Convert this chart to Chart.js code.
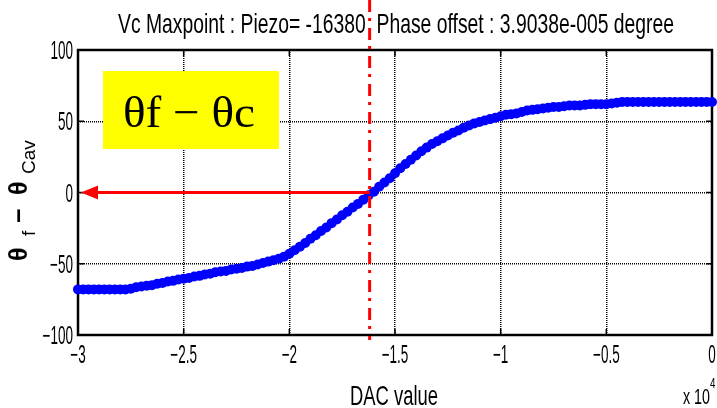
<!DOCTYPE html>
<html>
<head>
<meta charset="utf-8">
<script src="https://cdn.jsdelivr.net/npm/chart.js@4.4.0/dist/chart.umd.min.js"></script>
<style>
body { margin: 0; background: #fff; }
#wrap { width: 717px; height: 408px; position: relative; }
</style>
</head>
<body>
<div id="wrap"><canvas id="myChart"></canvas></div>
<script>
// DAC values (x) and phase difference theta_f - theta_cav (y)
var dacValues = [
  -30000, -29750, -29500, -29250, -29000, -28750, -28500, -28250, -28000, -27750,
  -27500, -27250, -27000, -26750, -26500, -26250, -26000, -25750, -25500, -25250,
  -25000, -24750, -24500, -24250, -24000, -23750, -23500, -23250, -23000, -22750,
  -22500, -22250, -22000, -21750, -21500, -21250, -21000, -20750, -20500, -20250,
  -20000, -19750, -19500, -19250, -19000, -18750, -18500, -18250, -18000, -17750,
  -17500, -17250, -17000, -16750, -16500, -16250, -16000, -15750, -15500, -15250,
  -15000, -14750, -14500, -14250, -14000, -13750, -13500, -13250, -13000, -12750,
  -12500, -12250, -12000, -11750, -11500, -11250, -11000, -10750, -10500, -10250,
  -10000, -9750, -9500, -9250, -9000, -8750, -8500, -8250, -8000, -7750,
  -7500, -7250, -7000, -6750, -6500, -6250, -6000, -5750, -5500, -5250,
  -5000, -4750, -4500, -4250, -4000, -3750, -3500, -3250, -3000, -2750,
  -2500, -2250, -2000, -1750, -1500, -1250, -1000, -750, -500, -250, 0
];
var phaseDiff = [
  -68, -68, -68, -68, -68, -68, -68, -68, -68, -68,
  -67.5, -66.5, -66, -65.5, -65, -64, -63.5, -62.5, -62, -61,
  -60.5, -60, -59, -58.5, -57.5, -57, -56, -55.5, -55, -54,
  -53.5, -53, -52, -51.5, -50.5, -49.5, -48.5, -47.5, -46.5, -45,
  -43, -40.5, -38, -35.5, -32.5, -30, -27, -24.5, -21.5, -19,
  -16, -13.5, -10.5, -8, -5, -2, 0.5, 4, 7, 10,
  13.5, 17, 20, 23, 26, 29, 31.5, 34, 36, 38,
  40, 42, 43.5, 45.5, 47, 48.5, 49.5, 50.5, 51.5, 52.5,
  53.5, 54.5, 55, 55.5, 56.5, 57.5, 58, 58.5, 59, 59.5,
  60, 60, 60.5, 61, 61, 61, 61.5, 62, 62, 62,
  62, 62.5, 63, 63.5, 63.5, 63.5, 63.5, 63.5, 63.5, 63.5,
  63.5, 63.5, 63.5, 63.5, 63.5, 63.5, 63.5, 63.5, 63.5, 63.5, 63.5
];
var xTicks = [-30000, -25000, -20000, -15000, -10000, -5000, 0];
var yTicks = [-100, -50, 0, 50, 100];
var maxpointDac = -16200;
var titleText = 'Vc Maxpoint : Piezo= -16380  Phase offset : 3.9038e-005 degree';

var sans = "'Liberation Sans', Arial, sans-serif";

function minus(v) {
  return String(v).replace('-', '\u2212');
}

// draw text squeezed horizontally
function squeezed(ctx, text, x, y, sx, align) {
  ctx.save();
  ctx.translate(x, y);
  ctx.scale(sx, 1);
  ctx.textAlign = align || 'center';
  ctx.fillText(text, 0, 0);
  ctx.restore();
}

// draw text squeezed to a target width
function fitText(ctx, text, x, y, w, align) {
  var m = ctx.measureText(text).width;
  squeezed(ctx, text, x, y, w / m, align);
}

var decor = {
  id: 'decor',
  beforeDraw: function(chart) {
    var ctx = chart.ctx;
    ctx.save();
    ctx.fillStyle = '#fff';
    ctx.fillRect(0, 0, chart.width, chart.height);
    ctx.restore();
  },
  beforeDatasetsDraw: function(chart) {
    var ctx = chart.ctx, a = chart.chartArea;
    var xs = chart.scales.x, ys = chart.scales.y;
    ctx.save();
    ctx.strokeStyle = '#000';
    ctx.lineWidth = 1.5;
    // inner ticks
    ctx.beginPath();
    xTicks.forEach(function(v) {
      var px = xs.getPixelForValue(v);
      ctx.moveTo(px, a.bottom); ctx.lineTo(px, a.bottom - 6);
      ctx.moveTo(px, a.top); ctx.lineTo(px, a.top + 6);
    });
    yTicks.forEach(function(v) {
      var py = ys.getPixelForValue(v);
      ctx.moveTo(a.left, py); ctx.lineTo(a.left + 6, py);
      ctx.moveTo(a.right, py); ctx.lineTo(a.right - 6, py);
    });
    ctx.stroke();
    ctx.lineWidth = 2.5;
    ctx.strokeRect(a.left, a.top, a.right - a.left, a.bottom - a.top);

    // tick labels, tall and narrow like the original
    ctx.fillStyle = '#000';
    ctx.font = '25px ' + sans;
    ctx.textBaseline = 'alphabetic';
    xs.ticks.forEach(function(t) {
      squeezed(ctx, minus(t.value / 10000), xs.getPixelForValue(t.value), a.bottom + 28, 0.54, 'center');
    });
    ys.ticks.forEach(function(t) {
      squeezed(ctx, minus(t.value), a.left - 5, ys.getPixelForValue(t.value) + 9, 0.54, 'right');
    });
    ctx.restore();
  },
  afterDatasetsDraw: function(chart) {
    var ctx = chart.ctx, a = chart.chartArea;
    var xs = chart.scales.x, ys = chart.scales.y;
    var mx = xs.getPixelForValue(maxpointDac);
    var y0 = ys.getPixelForValue(0);
    ctx.save();

    // red horizontal arrow to the axis
    ctx.strokeStyle = '#ff0000';
    ctx.fillStyle = '#ff0000';
    ctx.lineWidth = 3;
    ctx.beginPath();
    ctx.moveTo(mx, y0);
    ctx.lineTo(a.left + 14, y0);
    ctx.stroke();
    ctx.beginPath();
    ctx.moveTo(a.left + 3, y0);
    ctx.lineTo(a.left + 20, y0 - 7);
    ctx.lineTo(a.left + 20, y0 + 7);
    ctx.closePath();
    ctx.fill();

    // red dash-dot vertical line
    ctx.lineWidth = 3;
    ctx.setLineDash([12, 6, 3, 7]);
    ctx.beginPath();
    ctx.moveTo(mx, 0);
    ctx.lineTo(mx, a.bottom + 5);
    ctx.stroke();
    ctx.setLineDash([]);

    // yellow label box
    ctx.fillStyle = '#ffff00';
    ctx.fillRect(103, 71, 176, 78);
    ctx.fillStyle = '#000';
    ctx.font = "44px 'Liberation Serif', serif";
    ctx.textBaseline = 'alphabetic';
    fitText(ctx, '\u03b8f \u2212 \u03b8c', 189, 127, 132, 'center');

    // title
    ctx.font = '28px ' + sans;
    fitText(ctx, titleText, 396, 33, 556, 'center');

    // x axis title and exponent
    ctx.font = '28px ' + sans;
    fitText(ctx, 'DAC value', 394, 405, 88, 'center');
    ctx.font = '22px ' + sans;
    fitText(ctx, 'x 10', 683, 404, 27, 'left');
    ctx.font = '15px ' + sans;
    squeezed(ctx, '4', 710, 388, 0.65, 'left');

    // y axis title, rotated
    ctx.save();
    ctx.translate(27, 261);
    ctx.rotate(-Math.PI / 2);
    ctx.textAlign = 'left';
    var main = 'bold 25px ' + sans;
    var sub = '19px ' + sans;
    ctx.font = main; ctx.fillText('\u03b8', 0, 0);
    ctx.font = sub; ctx.fillText('f', 25, 8);
    ctx.font = main; ctx.fillText('\u2212', 38, 0);
    ctx.font = main; ctx.fillText('\u03b8', 66, 0);
    ctx.font = sub; ctx.fillText('Cav', 87, 8);
    ctx.restore();

    ctx.restore();
  }
};

var points = dacValues.map(function(d, i) { return {x: d, y: phaseDiff[i]}; });

var ctx = document.getElementById('myChart');
new Chart(ctx, {
  type: 'line',
  data: {
    datasets: [{
      data: points,
      borderColor: '#0000ff',
      backgroundColor: '#0000ff',
      borderWidth: 6,
      pointRadius: 5,
      pointBorderWidth: 0,
      pointBackgroundColor: '#0000ff',
      tension: 0,
      clip: false
    }]
  },
  options: {
    responsive: true,
    maintainAspectRatio: false,
    animation: false,
    layout: { padding: { top: 50, right: 2, left: 0, bottom: 0 } },
    plugins: { legend: { display: false }, tooltip: { enabled: false }, title: { display: false } },
    scales: {
      x: {
        type: 'linear',
        min: -30000,
        max: 0,
        afterBuildTicks: function(scale) {
          scale.ticks = xTicks.map(function(v) { return {value: v}; });
        },
        afterFit: function(scale) {
          scale.height = 73;
          scale.paddingLeft = 0;
          scale.paddingRight = 0;
        },
        ticks: { display: false },
        grid: { color: '#000', lineWidth: 1.5, drawTicks: false },
        border: { display: false, dash: [1, 1] }
      },
      y: {
        min: -100,
        max: 100,
        afterBuildTicks: function(scale) {
          scale.ticks = yTicks.map(function(v) { return {value: v}; });
        },
        afterFit: function(scale) {
          scale.width = 78;
          scale.paddingTop = 0;
          scale.paddingBottom = 0;
        },
        ticks: { display: false },
        grid: { color: '#000', lineWidth: 1.5, drawTicks: false },
        border: { display: false, dash: [1, 1] }
      }
    }
  },
  plugins: [decor]
});
</script>
</body>
</html>
